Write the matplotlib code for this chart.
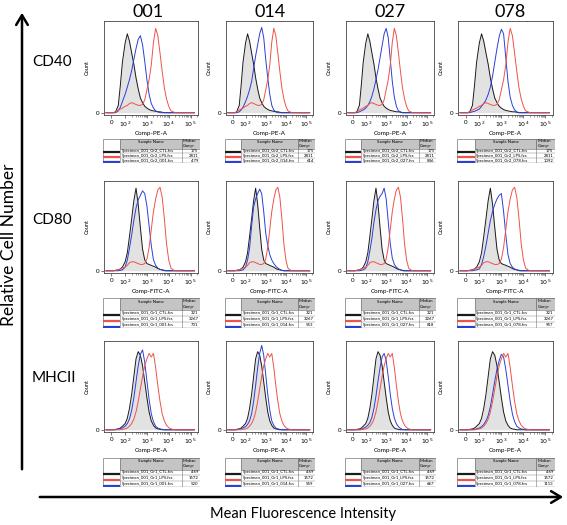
# Flow cytometry overlay grid: CD40 / CD80 / MHCII for samples 001, 014, 027, 078
import numpy as np
import matplotlib.pyplot as plt
from matplotlib.patches import Rectangle, FancyArrowPatch
from matplotlib.ticker import SymmetricalLogLocator

plt.rcParams['font.family'] = ['Lato', 'DejaVu Sans']

# %%
# data: histogram heights (fraction of axis) on a shared intensity grid
X_GRID = [-40, 0, 15, 30, 50, 65, 80, 100, 126, 158, 200, 251, 316, 398, 501,
          631, 794, 1000, 1259, 1585, 1995, 2512, 3162, 3981, 5012, 6310,
          7943, 10000, 12589, 15849, 19953, 40000, 150000]

samples = ['001', '014', '027', '078']
markers = ['CD40', 'CD80', 'MHCII']
channels = ['Comp-PE-A', 'Comp-FITC-A', 'Comp-PE-A']
groups = ['Gr2', 'Gr1', 'Gr1']

CD40_CTL = [0, 0, 0, .01, .08, .3, .55, .76, .86, .78, .65, .53, .38, .26, .16, .11,
            .07, .05, .035, .025, .02, .015, .01, .01, .005, 0, 0, 0, 0, 0, 0, 0, 0]
CD40_LPS = [0, 0, 0, .01, .03, .04, .05, .07, .08, .1, .11, .1, .09, .08, .08, .09,
            .14, .25, .36, .52, .77, .92, .84, .65, .45, .27, .15, .07, .02, .01, 0, 0, 0]
CD40_TEST = [
    [0, 0, 0, 0, .02, .06, .12, .2, .28, .36, .46, .58, .7, .8, .84, .74,
     .56, .36, .2, .1, .05, .02, .01, 0, 0, 0, 0, 0, 0, 0, 0, 0, 0],
    [0, 0, 0, 0, .01, .03, .06, .12, .18, .25, .34, .48, .62, .74, .86, .93,
     .82, .58, .38, .2, .08, .03, .01, 0, 0, 0, 0, 0, 0, 0, 0, 0, 0],
    [0, 0, 0, 0, .01, .02, .03, .05, .08, .12, .18, .26, .36, .47, .6, .73,
     .86, .92, .82, .58, .34, .17, .07, .02, .01, 0, 0, 0, 0, 0, 0, 0, 0],
    [0, 0, 0, 0, .01, .015, .025, .04, .07, .1, .14, .2, .28, .4, .55, .7,
     .83, .91, .86, .6, .34, .17, .08, .03, .01, 0, 0, 0, 0, 0, 0, 0, 0],
]

CD80_CTL = [0, 0, 0, .005, .01, .02, .04, .1, .2, .38, .58, .78, .92, .74, .48, .24,
            .12, .08, .07, .06, .05, .04, .025, .015, .01, .005, 0, 0, 0, 0, 0, 0, 0]
CD80_LPS = [0, 0, 0, .005, .01, .02, .03, .04, .06, .09, .1, .1, .09, .08, .07, .07,
            .08, .13, .26, .46, .66, .8, .9, .93, .82, .58, .3, .12, .03, .01, 0, 0, 0]
CD80_TEST = [
    [0, 0, 0, 0, 0, .005, .01, .04, .12, .25, .4, .56, .7, .79, .84, .89,
     .86, .72, .5, .28, .12, .06, .03, .015, .008, 0, 0, 0, 0, 0, 0, 0, 0],
    [0, 0, 0, 0, 0, .005, .01, .04, .12, .25, .5, .71, .8, .86, .91, .86,
     .66, .42, .28, .18, .12, .08, .05, .03, .015, .005, 0, 0, 0, 0, 0, 0, 0],
    [0, 0, 0, 0, 0, .005, .01, .03, .1, .22, .36, .54, .68, .78, .83, .86,
     .92, .8, .55, .3, .14, .07, .04, .02, .01, 0, 0, 0, 0, 0, 0, 0, 0],
    [0, 0, 0, 0, 0, .005, .01, .02, .07, .16, .28, .42, .56, .66, .74, .8,
     .84, .86, .66, .4, .18, .08, .04, .02, .01, 0, 0, 0, 0, 0, 0, 0, 0],
]

MHC_CTL = [0, 0, 0, .005, .01, .02, .04, .07, .13, .24, .4, .6, .8, .88, .84, .72,
           .54, .36, .2, .1, .05, .02, .01, .005, 0, 0, 0, 0, 0, 0, 0, 0, 0]
MHC_LPS = [0, 0, 0, 0, 0, 0, .005, .01, .02, .04, .07, .12, .2, .32, .46, .6,
           .72, .8, .86, .82, .86, .7, .5, .32, .18, .1, .05, .025, .01, .005, 0, 0, 0]
MHC_TEST = [
    [0, 0, 0, 0, .01, .015, .02, .04, .07, .12, .22, .36, .54, .72, .85, .9,
     .76, .55, .34, .18, .09, .04, .02, .01, .005, 0, 0, 0, 0, 0, 0, 0, 0],
    [0, 0, 0, 0, .01, .015, .02, .035, .06, .1, .18, .32, .5, .7, .86, .95,
     .84, .62, .4, .22, .1, .05, .02, .01, .005, 0, 0, 0, 0, 0, 0, 0, 0],
    [0, 0, 0, 0, 0, .005, .015, .03, .05, .08, .14, .24, .38, .55, .7, .82,
     .86, .78, .6, .4, .24, .13, .07, .035, .015, .005, 0, 0, 0, 0, 0, 0, 0],
    [0, 0, 0, 0, 0, .005, .01, .02, .035, .06, .1, .16, .26, .4, .55, .68,
     .78, .85, .82, .68, .5, .32, .18, .09, .04, .02, .01, .005, 0, 0, 0, 0, 0],
]

ctl_curves = [CD40_CTL, CD80_CTL, MHC_CTL]
lps_curves = [CD40_LPS, CD80_LPS, MHC_LPS]
test_curves = [CD40_TEST, CD80_TEST, MHC_TEST]

median_ctl = [175, 321, 469]
median_lps = [2811, 3267, 1572]
median_test = [[479, 614, 846, 1092],
               [731, 553, 818, 957],
               [520, 559, 667, 1113]]

# %%
W, H = 567, 525
fig = plt.figure(figsize=(W / 100, H / 100), dpi=100)


def fx(px):
    return px / W


def fy(py):
    return 1 - py / H


panel_left = [104, 226, 346, 458]
panel_width = [94, 87, 88, 95]
panel_top = [21, 181, 341]
panel_bottom = [115, 273, 432]
table_top = [139, 298, 458]
table_height = [24, 30, 29]

C_BLACK, C_RED, C_BLUE = '#1a1a1a', '#f0524a', '#2b3fd6'


def draw_hist(ax, r, c):
    ax.fill_between(X_GRID, ctl_curves[r], color='#e2e2e2', lw=0)
    ax.plot(X_GRID, ctl_curves[r], color=C_BLACK, lw=0.7)
    ax.plot(X_GRID, test_curves[r][c], color=C_BLUE, lw=0.7)
    ax.plot(X_GRID, lps_curves[r], color=C_RED, lw=0.7)
    ax.set_xscale('symlog', linthresh=100, linscale=0.5625)
    ax.set_xlim(-55, 2.2e5)
    ax.set_ylim(-0.025, 1.0)
    ax.set_xticks([0, 1e2, 1e3, 1e4, 1e5])
    ax.set_xticklabels(['0', '$10^2$', '$10^3$', '$10^4$', '$10^5$'])
    ax.xaxis.set_minor_locator(SymmetricalLogLocator(linthresh=100, base=10,
                                                     subs=np.arange(2, 10)))
    ax.set_yticks([0])
    ax.set_yticklabels(['0'])
    ax.tick_params(labelsize=4.5, length=2, width=0.5, pad=1.5, color='#444')
    ax.tick_params(which='minor', length=1.2, width=0.4, color='#444')
    ax.set_xlabel(channels[r], fontsize=4.5, labelpad=1)
    ax.set_ylabel('Count', fontsize=4, labelpad=4)
    for s in ax.spines.values():
        s.set_linewidth(0.6)
        s.set_color('#444')


def draw_table(ax, r, c):
    ax.set_xlim(0, 1)
    ax.set_ylim(0, 1)
    ax.axis('off')
    cols = [0, 0.18, 0.81, 1.0]
    hdr = 0.4
    rh = (1 - hdr) / 3
    ec = '#777777'
    ax.add_patch(Rectangle((cols[1], 1 - hdr), cols[2] - cols[1], hdr,
                           fc='#c4c4c4', ec=ec, lw=0.4))
    ax.add_patch(Rectangle((cols[2], 1 - hdr), cols[3] - cols[2], hdr,
                           fc='#c4c4c4', ec=ec, lw=0.4))
    ax.add_patch(Rectangle((0, 0), 1, 1, fc='none', ec=ec, lw=0.5))
    ax.plot([cols[1], cols[1]], [0, 1], color=ec, lw=0.4)
    ax.plot([cols[2], cols[2]], [0, 1], color=ec, lw=0.4)
    ax.text((cols[1] + cols[2]) / 2, 1 - hdr * 0.3, 'Sample Name',
            ha='center', va='center', fontsize=3.2)
    ax.text(cols[2] + 0.01, 1 - hdr * 0.25, 'Median', ha='left', va='center', fontsize=3.0)
    ax.text(cols[2] + 0.01, 1 - hdr * 0.72, 'Comp-', ha='left', va='center', fontsize=3.0)
    names = ['Specimen_001_%s_CTL.fcs' % groups[r],
             'Specimen_001_%s_LPS.fcs' % groups[r],
             'Specimen_001_%s_%s.fcs' % (groups[r], samples[c])]
    meds = [median_ctl[r], median_lps[r], median_test[r][c]]
    colors = [C_BLACK, C_RED, C_BLUE]
    for i in range(3):
        top = 1 - hdr - i * rh
        ax.plot([cols[1], 1], [top - rh, top - rh], color=ec, lw=0.3)
        yc = top - rh * 0.5
        ax.plot([0, cols[1]], [top - rh * 0.75, top - rh * 0.75],
                color=colors[i], lw=1.6, solid_capstyle='butt')
        ax.text(cols[1] + 0.015, yc, names[i], ha='left', va='center', fontsize=3.1)
        ax.text(0.985, yc, str(meds[i]), ha='right', va='center', fontsize=3.1)


for r in range(3):
    for c in range(4):
        ax = fig.add_axes([fx(panel_left[c]), fy(panel_bottom[r]),
                           panel_width[c] / W, (panel_bottom[r] - panel_top[r]) / H])
        draw_hist(ax, r, c)
        tax = fig.add_axes([fx(panel_left[c] - 1), fy(table_top[r] + table_height[r]),
                            (panel_width[c] + 3) / W, table_height[r] / H])
        draw_table(tax, r, c)

# %%
# headers, row labels and the two big axis arrows
for c, x in enumerate([148, 270, 390, 510]):
    fig.text(fx(x), fy(12), samples[c], ha='center', va='center', fontsize=13)
for r, y in enumerate([62, 220, 378]):
    fig.text(fx(32), fy(y), markers[r], ha='left', va='center', fontsize=11)

fig.add_artist(FancyArrowPatch((fx(22), fy(472)), (fx(22), fy(10)),
                               transform=fig.transFigure, arrowstyle='->,head_length=0.5,head_width=0.3',
                               mutation_scale=14, lw=1.8, color='black'))
fig.add_artist(FancyArrowPatch((fx(37), fy(497)), (fx(566), fy(497)),
                               transform=fig.transFigure, arrowstyle='->,head_length=0.5,head_width=0.3',
                               mutation_scale=14, lw=1.8, color='black'))
fig.text(fx(9), fy(245), 'Relative Cell Number', rotation=90, ha='center', va='center',
         fontsize=12.5)
fig.text(fx(303), fy(514), 'Mean Fluorescence Intensity', ha='center', va='center',
         fontsize=10.5)

fig.savefig('out.png', dpi=100)
